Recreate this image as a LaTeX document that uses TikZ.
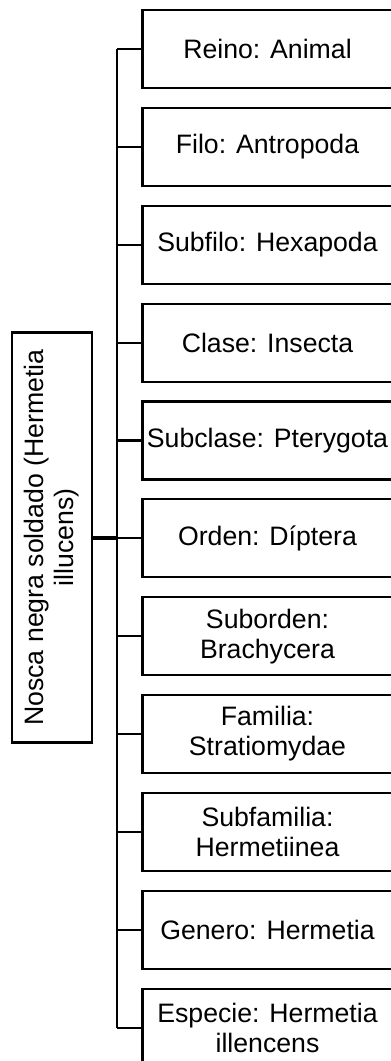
\documentclass[tikz,border=0pt]{standalone}
\usepackage{fontspec}
\setmainfont{Liberation Sans}
\usepackage{tikz}
\usetikzlibrary{positioning}

\begin{document}
\begin{tikzpicture}[x=0.75pt, y=-0.75pt,
        taxon/.style={draw, line width=1.6pt, minimum width=187.5pt, minimum height=58.5pt, align=center, inner sep=1pt, font=\fontsize{20}{22.5}\selectfont},
        branch/.style={line width=1.6pt}]
        \useasboundingbox (0,0) rectangle (390,1061);
        \coordinate (spine) at (117,0);
        \node (reino) [taxon] at (267.5,49) {Reino: Animal};
        \node (filo) [taxon, below=13.3pt of reino] {Filo: Antropoda};
        \node (subfilo) [taxon, below=13.3pt of filo] {Subfilo: Hexapoda};
        \node (clase) [taxon, below=13.3pt of subfilo] {Clase: Insecta};
        \node (subclase) [taxon, below=13.3pt of clase] {Subclase: Pterygota};
        \node (orden) [taxon, below=13.3pt of subclase] {Orden: Díptera};
        \node (suborden) [taxon, below=13.3pt of orden] {Suborden:\\Brachycera};
        \node (familia) [taxon, below=13.3pt of suborden] {Familia:\\Stratiomydae};
        \node (subfamilia) [taxon, below=13.3pt of familia] {Subfamilia:\\Hermetiinea};
        \node (genero) [taxon, below=13.3pt of subfamilia] {Genero: Hermetia};
        \node (especie) [taxon, below=13.3pt of genero] {Especie: Hermetia\\illencens};
        \node (mosca) [draw, line width=1.6pt, rotate=90, minimum width=307.5pt, minimum height=60pt, align=center, inner sep=1pt, font=\fontsize{20}{22.5}\selectfont] at (52,537.5) {Nosca negra soldado (Hermetia\\illucens)};
        % tree lines
        \draw [branch] (reino.west -| spine) -- (especie.west -| spine);
        \foreach \n in {reino, filo, subfilo, clase, subclase, orden, suborden, familia, subfamilia, genero, especie}
            \draw [branch] (\n.west) -- (\n.west -| spine);
        \draw [line width=3pt] (mosca.south) -- (mosca.south -| spine);
    \end{tikzpicture}
\end{document}
